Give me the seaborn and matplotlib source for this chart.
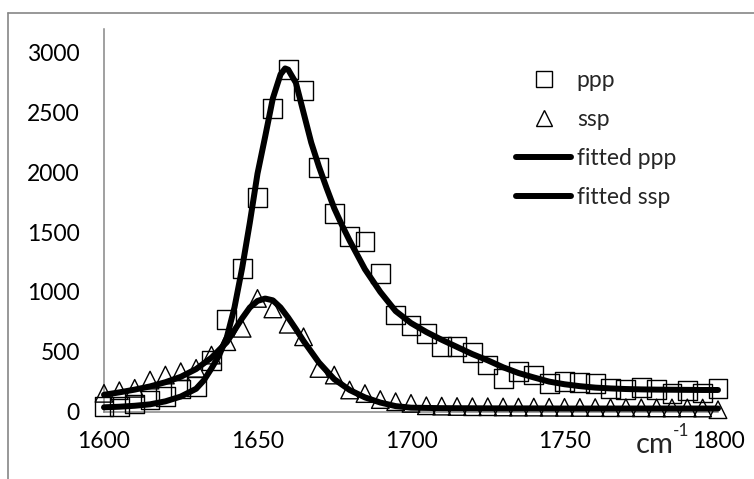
import matplotlib
matplotlib.use("Agg")
import matplotlib.pyplot as plt
from matplotlib.lines import Line2D
import seaborn as sns
import pandas as pd

# ---------------- data ----------------
pts_x = list(range(1600, 1801, 5))
ppp = [40, 40, 63, 96, 124, 188, 207, 430, 770, 1197, 1788, 2535, 2858, 2682, 2038,
       1657, 1462, 1420, 1152, 807, 720, 654, 542, 542, 490, 389, 277, 333, 305, 236,
       249, 245, 236, 194, 187, 198, 183, 152, 177, 155, 190]
ssp = [152, 174, 194, 263, 305, 333, 361, 472, 584, 696, 946, 858, 730, 625, 360,
       305, 180, 150, 100, 82, 68, 48, 45, 42, 40, 40, 38, 37, 37, 36,
       35, 34, 33, 32, 32, 31, 30, 30, 30, 29, 15]

fit_ppp_x = [1600, 1605, 1610, 1615, 1620, 1625, 1630, 1632.5, 1635, 1637.5, 1640, 1642.5,
             1645, 1647.5, 1650, 1652.5, 1655, 1657.5, 1659, 1660, 1662.5, 1665, 1667.5,
             1670, 1672.5, 1675, 1677.5, 1680, 1685, 1690, 1695, 1700, 1705, 1710, 1715,
             1720, 1725, 1730, 1735, 1740, 1745, 1750, 1755, 1760, 1765, 1770, 1775,
             1780, 1785, 1790, 1795, 1800]
fit_ppp = [35, 40, 48, 60, 85, 125, 190, 260, 360, 470, 620, 870,
           1200, 1580, 1990, 2300, 2620, 2820, 2870, 2860, 2750, 2500, 2250,
           2050, 1870, 1700, 1560, 1430, 1190, 1000, 840, 740, 665, 600, 540,
           480, 428, 370, 322, 285, 250, 228, 212, 200, 193, 188, 185,
           183, 182, 181, 180, 180]

fit_ssp_x = [1600, 1605, 1610, 1615, 1620, 1625, 1630, 1635, 1640, 1645, 1647.5, 1650,
             1652.5, 1655, 1657.5, 1660, 1662.5, 1665, 1667.5, 1670, 1675, 1680, 1685,
             1690, 1695, 1700, 1710, 1720, 1730, 1740, 1750, 1760, 1770, 1780, 1790, 1800]
fit_ssp = [140, 160, 183, 210, 245, 290, 355, 450, 580, 780, 870, 925,
           945, 930, 870, 785, 690, 590, 500, 410, 270, 180, 118,
           75, 45, 32, 28, 27, 26, 26, 25, 25, 25, 25, 25, 25]

x_ticks = [1600, 1650, 1700, 1750, 1800]
y_ticks = [0, 500, 1000, 1500, 2000, 2500, 3000]
legend_labels = ["ppp", "ssp", "fitted ppp", "fitted ssp"]
unit_text = "cm"
unit_sup = "-1"

# ---------------- style ----------------
sns.set_style("white")
plt.rcParams["font.family"] = ["Lato", "DejaVu Sans"]
FS = 16.5
GRAY = "#868686"

fig = plt.figure(figsize=(7.54, 4.79), dpi=100)
W, H = 754, 479
ax = fig.add_axes([104 / W, 1 - 411.5 / H, 614 / W, (411.5 - 29) / H])

df_pts = pd.DataFrame({"x": pts_x, "ppp": ppp, "ssp": ssp})
df_fp = pd.DataFrame({"x": fit_ppp_x, "y": fit_ppp})
df_fs = pd.DataFrame({"x": fit_ssp_x, "y": fit_ssp})

sns.scatterplot(data=df_pts, x="x", y="ppp", marker="s", s=185, facecolor="none",
                edgecolor="black", linewidth=1.0, ax=ax, clip_on=False, zorder=3)
sns.scatterplot(data=df_pts, x="x", y="ssp", marker="^", s=160, facecolor="none",
                edgecolor="black", linewidth=1.0, ax=ax, clip_on=False, zorder=3)
sns.lineplot(data=df_fp, x="x", y="y", color="black", linewidth=4.3, ax=ax,
             clip_on=False, zorder=4, solid_capstyle="round", solid_joinstyle="round")
sns.lineplot(data=df_fs, x="x", y="y", color="black", linewidth=4.3, ax=ax,
             clip_on=False, zorder=4, solid_capstyle="round", solid_joinstyle="round")

ax.set_xlim(1600, 1800)
ax.set_ylim(0, 3200)
ax.set_xticks(x_ticks)
ax.set_yticks(y_ticks)
ax.set_xlabel("")
ax.set_ylabel("")
for s in ["top", "right"]:
    ax.spines[s].set_visible(False)
for s in ["left", "bottom"]:
    ax.spines[s].set_color(GRAY)
    ax.spines[s].set_linewidth(1.1)
ax.tick_params(axis="both", direction="out", length=5.3, width=1.1, color=GRAY,
               labelsize=FS, labelcolor="black")
ax.tick_params(axis="y", pad=12)
ax.tick_params(axis="x", pad=9)
ax.set_facecolor("none")

# unit label
fig.text(636 / W, 1 - 453 / H, unit_text, fontsize=21, ha="left", va="baseline")
fig.text(673 / W, 1 - 436 / H, unit_sup, fontsize=12.5, ha="left", va="baseline")

# legend
handles = [
    Line2D([], [], linestyle="none", marker="s", markersize=12, markerfacecolor="none",
           markeredgecolor="black", markeredgewidth=1.0),
    Line2D([], [], linestyle="none", marker="^", markersize=12, markerfacecolor="none",
           markeredgecolor="black", markeredgewidth=1.0),
    Line2D([], [], color="black", linewidth=4.3, solid_capstyle="round"),
    Line2D([], [], color="black", linewidth=4.3, solid_capstyle="round"),
]
leg = fig.legend(handles, legend_labels, loc="upper left",
                 bbox_to_anchor=(516 / W, 1 - 70 / H), frameon=False, fontsize=FS,
                 handlelength=2.4, handletextpad=0.25, labelspacing=0.78,
                 borderpad=0, borderaxespad=0)

# outer chart frame (top and left edges)
fig.add_artist(Line2D([8 / W, 1.0], [1 - 13 / H, 1 - 13 / H], color=GRAY, linewidth=1.2,
                      transform=fig.transFigure))
fig.add_artist(Line2D([8 / W, 8 / W], [1 - 13 / H, 0.0], color=GRAY, linewidth=1.2,
                      transform=fig.transFigure))

fig.savefig("out.png", dpi=100)
